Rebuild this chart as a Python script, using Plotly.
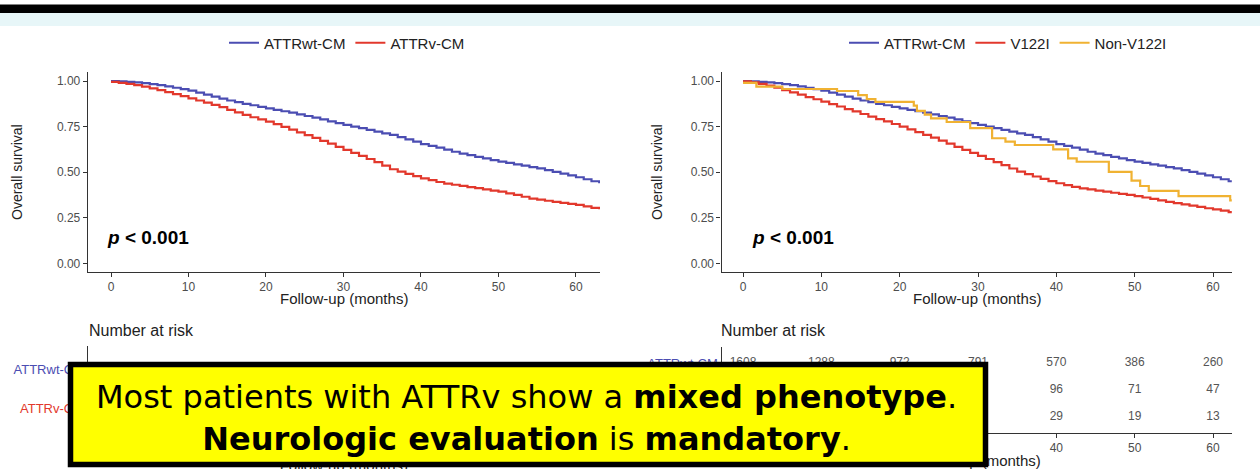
import plotly.graph_objects as go

# ---------------- data ----------------
months = list(range(0, 64))
attrwt_surv = [1.000, 0.998, 0.995, 0.992, 0.988, 0.983, 0.977, 0.970, 0.963, 0.955,
               0.947, 0.936, 0.925, 0.914, 0.903, 0.893, 0.884, 0.875, 0.867, 0.858,
               0.850, 0.842, 0.834, 0.826, 0.817, 0.808, 0.799, 0.789, 0.779, 0.769,
               0.759, 0.750, 0.741, 0.732, 0.722, 0.713, 0.704, 0.692, 0.680, 0.667,
               0.654, 0.644, 0.634, 0.623, 0.612, 0.602, 0.593, 0.584, 0.575, 0.566,
               0.558, 0.551, 0.543, 0.536, 0.528, 0.521, 0.511, 0.501, 0.492, 0.482,
               0.472, 0.461, 0.450, 0.439]
attrv_surv = [0.995, 0.990, 0.984, 0.977, 0.969, 0.960, 0.950, 0.939, 0.928, 0.917,
              0.905, 0.893, 0.881, 0.869, 0.857, 0.842, 0.828, 0.814, 0.801, 0.789,
              0.777, 0.763, 0.748, 0.733, 0.718, 0.703, 0.688, 0.672, 0.656, 0.639,
              0.622, 0.606, 0.589, 0.572, 0.555, 0.536, 0.516, 0.503, 0.490, 0.478,
              0.466, 0.456, 0.446, 0.437, 0.431, 0.425, 0.418, 0.412, 0.405, 0.399,
              0.393, 0.384, 0.375, 0.365, 0.355, 0.349, 0.343, 0.337, 0.331, 0.326,
              0.320, 0.312, 0.304, 0.296]
v122i_surv = [0.998, 0.992, 0.984, 0.975, 0.963, 0.950, 0.938, 0.925, 0.912, 0.900,
              0.887, 0.873, 0.860, 0.846, 0.833, 0.819, 0.805, 0.791, 0.778, 0.764,
              0.750, 0.735, 0.720, 0.705, 0.689, 0.673, 0.656, 0.639, 0.622, 0.606,
              0.589, 0.572, 0.555, 0.538, 0.520, 0.503, 0.489, 0.476, 0.463, 0.451,
              0.439, 0.429, 0.419, 0.411, 0.405, 0.399, 0.393, 0.387, 0.381, 0.375,
              0.369, 0.361, 0.353, 0.345, 0.337, 0.330, 0.323, 0.316, 0.309, 0.302,
              0.296, 0.289, 0.281, 0.278]
nonv_months = [0, 1.7, 5, 12, 14.7, 15.8, 16.9, 21.8, 22.2, 23.2, 24, 26, 29,
               31.8, 33.5, 34.7, 39.6, 41.5, 42.6, 46.7, 49.6, 50.7, 51.8, 55.6,
               62.2, 63]
nonv_surv = [0.990, 0.969, 0.956, 0.945, 0.923, 0.901, 0.886, 0.865, 0.836, 0.815,
             0.795, 0.775, 0.741, 0.686, 0.667, 0.649, 0.625, 0.576, 0.557, 0.502,
             0.453, 0.424, 0.397, 0.369, 0.345, 0.345]

risk_times = [0, 10, 20, 30, 40, 50, 60]
risk_attrwt = [1608, 1288, 972, 791, 570, 386, 260]
risk_v_times = [40, 50, 60]
risk_v122i = [96, 71, 47]
risk_nonv122i = [29, 19, 13]

x_ticks = [0, 10, 20, 30, 40, 50, 60]
y_ticks = [0, 0.25, 0.5, 0.75, 1.0]
y_ticktext = ["0.00", "0.25", "0.50", "0.75", "1.00"]

BLUE = "#4b4db2"
RED = "#e2382c"
ORANGE = "#f0b232"
FONT = "Liberation Sans, Arial, sans-serif"
W, H = 1260, 469

def px(v):  # horizontal pixel -> paper
    return v / W

def py(v):  # vertical pixel (from top) -> paper
    return 1 - v / H

fig = go.Figure()

# ---------------- survival curves ----------------
fig.add_trace(go.Scatter(x=months, y=attrwt_surv, mode="lines", line=dict(color=BLUE, width=2.2, shape="hv"),
                         name="ATTRwt-CM", legend="legend", xaxis="x", yaxis="y"))
fig.add_trace(go.Scatter(x=months, y=attrv_surv, mode="lines", line=dict(color=RED, width=2.2, shape="hv"),
                         name="ATTRv-CM", legend="legend", xaxis="x", yaxis="y"))
fig.add_trace(go.Scatter(x=months, y=attrwt_surv, mode="lines", line=dict(color=BLUE, width=2.2, shape="hv"),
                         name="ATTRwt-CM", legend="legend2", xaxis="x2", yaxis="y2"))
fig.add_trace(go.Scatter(x=months, y=v122i_surv, mode="lines", line=dict(color=RED, width=2.2, shape="hv"),
                         name="V122I", legend="legend2", xaxis="x2", yaxis="y2"))
fig.add_trace(go.Scatter(x=nonv_months, y=nonv_surv, mode="lines", line=dict(color=ORANGE, width=2.2, shape="hv"),
                         name="Non-V122I", legend="legend2", xaxis="x2", yaxis="y2"))

# ---------------- risk tables (text marks, below the call-out box) ----------------
num_font = dict(family=FONT, size=12, color="#555555")
fig.add_trace(go.Scatter(x=risk_times, y=[2] * len(risk_times), mode="text", text=[str(v) for v in risk_attrwt],
                         textfont=num_font, showlegend=False, xaxis="x3", yaxis="y3", cliponaxis=False))
fig.add_trace(go.Scatter(x=risk_times, y=[3] * len(risk_times), mode="text", text=[str(v) for v in risk_attrwt],
                         textfont=num_font, showlegend=False, xaxis="x4", yaxis="y4", cliponaxis=False))
fig.add_trace(go.Scatter(x=risk_v_times, y=[2] * len(risk_v_times), mode="text", text=[str(v) for v in risk_v122i],
                         textfont=num_font, showlegend=False, xaxis="x4", yaxis="y4", cliponaxis=False))
fig.add_trace(go.Scatter(x=risk_v_times, y=[1] * len(risk_v_times), mode="text", text=[str(v) for v in risk_nonv122i],
                         textfont=num_font, showlegend=False, xaxis="x4", yaxis="y4", cliponaxis=False))

# table x-axis titles as text marks on hidden helper axes, so the box can cover them
XR_L = [-3.0, 63.1]
XR_R = [-2.75, 62.4]
title_font = dict(family=FONT, size=15, color="#222222")
fig.add_trace(go.Scatter(x=[(XR_L[0] + XR_L[1]) / 2], y=[0.05], mode="text", text=["Follow-up (months)"],
                         textfont=title_font, showlegend=False, xaxis="x6", yaxis="y6", cliponaxis=False))
fig.add_trace(go.Scatter(x=[(XR_R[0] + XR_R[1]) / 2], y=[0.25], mode="text", text=["Follow-up (months)"],
                         textfont=title_font, showlegend=False, xaxis="x5", yaxis="y5", cliponaxis=False))

axis_common = dict(showgrid=False, zeroline=False, showline=True, linecolor="#333333", linewidth=1.2,
                   ticks="outside", ticklen=4, tickcolor="#333333", tickwidth=1.1,
                   tickfont=dict(family=FONT, size=12, color="#4d4d4d"))
hidden = dict(visible=False, showgrid=False, zeroline=False, fixedrange=True)

plot_ydom = [py(271.5), py(71.7)]
dom_l = [px(87.75), px(600)]
dom_r = [px(721.5), px(1231.8)]
fig.update_layout(
    width=W, height=H, margin=dict(l=0, r=0, t=0, b=0),
    paper_bgcolor="white", plot_bgcolor="rgba(0,0,0,0)",
    font=dict(family=FONT, color="#222222"),
    xaxis=dict(domain=dom_l, range=XR_L, tickvals=x_ticks, anchor="y", **axis_common),
    yaxis=dict(domain=plot_ydom, range=[-0.045, 1.051], tickvals=y_ticks, ticktext=y_ticktext, anchor="x", **axis_common),
    xaxis2=dict(domain=dom_r, range=XR_R, tickvals=x_ticks, anchor="y2", **axis_common),
    yaxis2=dict(domain=plot_ydom, range=[-0.045, 1.051], tickvals=y_ticks, ticktext=y_ticktext, anchor="x2", **axis_common),
    xaxis3=dict(domain=dom_l, range=XR_L, tickvals=x_ticks, anchor="y3",
                showticklabels=False, **axis_common),
    yaxis3=dict(domain=[py(431.4), py(345.6)], range=[0.4, 2.6], tickvals=[2, 1],
                ticktext=[f"<span style='color:{BLUE}'>ATTRwt-CM</span>", f"<span style='color:{RED}'>ATTRv-CM</span>"],
                anchor="x3", showgrid=False, zeroline=False, showline=True, linecolor="#333333", linewidth=1.2,
                ticks="", tickfont=dict(family=FONT, size=13)),
    xaxis4=dict(domain=dom_r, range=XR_R, tickvals=x_ticks, anchor="y4", **axis_common),
    yaxis4=dict(domain=[py(432.7), py(347.3)], range=[0.4, 3.6], tickvals=[3, 2, 1],
                ticktext=[f"<span style='color:{BLUE}'>ATTRwt-CM</span>", f"<span style='color:{RED}'>V122I</span>",
                          f"<span style='color:{ORANGE}'>Non-V122I</span>"],
                anchor="x4", showgrid=False, zeroline=False, showline=True, linecolor="#333333", linewidth=1.2,
                ticks="", tickfont=dict(family=FONT, size=13)),
    xaxis5=dict(domain=dom_r, range=XR_R, anchor="y5", **hidden),
    yaxis5=dict(domain=[0, py(440)], range=[0, 1], anchor="x5", **hidden),
    xaxis6=dict(domain=dom_l, range=XR_L, anchor="y6", **hidden),
    yaxis6=dict(domain=[0, py(440)], range=[0, 1], anchor="x6", **hidden),
    legend=dict(orientation="h", x=px(347), xanchor="center", y=py(43), yanchor="middle",
                font=dict(family=FONT, size=15, color="#222222"), itemwidth=30, bgcolor="rgba(0,0,0,0)"),
    legend2=dict(orientation="h", x=px(1008), xanchor="center", y=py(43), yanchor="middle",
                 font=dict(family=FONT, size=15, color="#222222"), itemwidth=30, bgcolor="rgba(0,0,0,0)"),
)

# ---------------- decorations ----------------
shapes = [
    dict(type="rect", xref="paper", yref="paper", x0=0, x1=1, y0=py(13), y1=py(4.5),
         fillcolor="black", line=dict(width=0), layer="above"),
    dict(type="rect", xref="paper", yref="paper", x0=0, x1=1, y0=py(26), y1=py(13),
         fillcolor="#e7f6f8", line=dict(width=0), layer="above"),
    dict(type="rect", xref="paper", yref="paper", x0=px(70.5), x1=px(985.5), y0=py(464.5), y1=py(364.5),
         fillcolor="#ffff00", line=dict(color="black", width=5.5), layer="above"),
]
fig.update_layout(shapes=shapes)

ann = []
for xc in (17, 657):
    ann.append(dict(text="Overall survival", xref="paper", yref="paper", x=px(xc), y=py(172), textangle=-90,
                    showarrow=False, font=dict(family=FONT, size=14, color="#222222"),
                    xanchor="center", yanchor="middle"))
for xc in (344, 976.6):
    ann.append(dict(text="Follow-up (months)", xref="paper", yref="paper", x=px(xc), y=py(298),
                    showarrow=False, font=dict(family=FONT, size=15, color="#222222"),
                    xanchor="center", yanchor="middle"))
ann.append(dict(text="<b><i>p</i> < 0.001</b>", xref="x", yref="y", x=-0.8, y=0.144, xanchor="left",
                yanchor="middle", showarrow=False, font=dict(family=FONT, size=19, color="black")))
ann.append(dict(text="<b><i>p</i> < 0.001</b>", xref="x2", yref="y2", x=0.9, y=0.144, xanchor="left",
                yanchor="middle", showarrow=False, font=dict(family=FONT, size=19, color="black")))
for xl in (87, 719):
    ann.append(dict(text="Number at risk", xref="paper", yref="paper", x=px(xl), y=py(330), xanchor="left",
                    yanchor="middle", showarrow=False, font=dict(family=FONT, size=16, color="#222222")))
ann.append(dict(text="Most patients with ATTRv show a <b>mixed phenotype</b>.<br><b>Neurologic evaluation</b> is <b>mandatory</b>.",
                xref="paper", yref="paper", x=px(526), y=py(417.5), xanchor="center", yanchor="middle",
                showarrow=False, align="center", font=dict(family="DejaVu Sans", size=32, color="black")))
fig.update_layout(annotations=ann)

fig.write_html("out.html", config={"displayModeBar": False},
               post_script="document.body.style.margin='0';document.body.style.overflow='hidden';")
